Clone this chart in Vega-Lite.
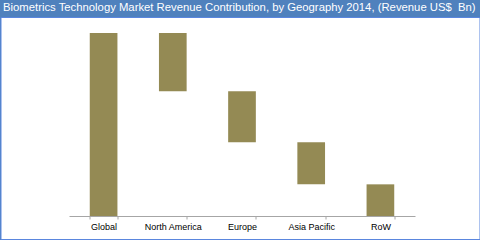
{
  "$schema": "https://vega.github.io/schema/vega-lite/v6.json",
  "autosize": "none",
  "width": 479,
  "height": 222,
  "padding": {"left": 0.5, "top": 17, "right": 0.5, "bottom": 1},
  "background": "#4F81BD",
  "title": {
    "text": "Biometrics Technology Market Revenue Contribution, by Geography 2014, (Revenue US$\u00a0 Bn)",
    "anchor": "start",
    "frame": "group",
    "baseline": "alphabetic",
    "offset": 4.5,
    "dx": 2.5,
    "dy": 9.5,
    "font": "Liberation Sans",
    "fontSize": 11.3,
    "fontWeight": "normal",
    "color": "#ffffff"
  },
  "config": {
    "view": {"fill": "#ffffff", "stroke": "#5A86DE", "strokeWidth": 1}
  },
  "data": {
    "values": [
      {"region": "Global", "start": 0, "end": 10},
      {"region": "North America", "start": 6.82, "end": 10},
      {"region": "Europe", "start": 4.03, "end": 6.82},
      {"region": "Asia Pacific", "start": 1.73, "end": 4.03},
      {"region": "RoW", "start": 0, "end": 1.73}
    ]
  },
  "mark": {"type": "bar", "color": "#948A54"},
  "encoding": {
    "x": {
      "field": "region",
      "type": "nominal",
      "sort": null,
      "scale": {"range": [68.5, 414.5], "paddingInner": 0.6, "paddingOuter": 0.3},
      "axis": {
        "title": null,
        "labelAngle": 0,
        "offset": -23,
        "tickBand": "extent",
        "tickSize": 3,
        "tickColor": "#A6A6A6",
        "domainColor": "#A6A6A6",
        "labelFont": "Liberation Sans",
        "labelFontSize": 9,
        "labelColor": "#000000",
        "labelPadding": 3
      }
    },
    "y": {
      "field": "start",
      "type": "quantitative",
      "scale": {"domain": [0, 10], "range": [199, 16], "nice": false, "zero": false},
      "axis": null
    },
    "y2": {"field": "end"}
  }
}
